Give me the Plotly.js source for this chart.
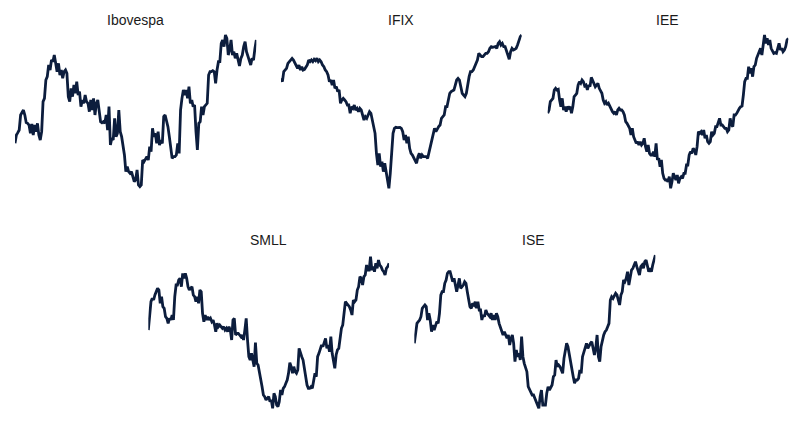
<!DOCTYPE html>
<html>
<head>
<meta charset="utf-8">
<script src="https://cdn.plot.ly/plotly-3.0.1.min.js"></script>
<style>html,body{margin:0;padding:0;background:#fff;}#chart{width:800px;height:426px;}</style>
</head>
<body>
<div id="chart"></div>
<script>
// Index levels (arbitrary rebased units)
const ibovespa = [170,195,202,210,255,265,270,255,232,230,225,200,228,195,225,205,230,195,180,205,295,305,360,370,405,390,420,415,435,410,385,410,375,390,365,385,390,380,310,295,335,310,345,320,355,315,325,280,300,290,315,295,290,265,300,270,305,255,290,300,260,235,232,235,230,255,210,280,165,185,180,245,190,200,270,205,190,165,135,85,100,85,80,85,70,55,60,90,45,40,45,120,115,125,130,120,160,145,215,190,200,170,205,165,180,170,250,255,240,220,190,160,125,130,130,135,170,140,270,305,330,315,330,305,340,290,300,280,285,205,150,230,235,280,255,280,285,290,375,385,385,388,385,350,390,415,415,470,480,460,495,485,435,450,480,435,445,425,440,420,402,425,435,460,475,445,430,415,405,425,420,455,480];
const ifix = [365,355,385,390,395,410,415,422,425,420,410,405,395,405,390,400,390,392,400,405,420,415,420,415,422,418,425,415,420,415,405,400,390,385,375,355,360,345,360,335,340,325,330,290,300,305,300,295,285,285,260,280,275,285,270,275,265,275,270,255,240,250,245,255,265,260,240,225,200,140,105,140,100,115,85,110,80,60,35,80,150,200,215,218,217,218,218,215,205,180,195,170,190,155,140,135,125,120,110,130,140,125,135,130,130,130,125,145,160,180,200,215,205,215,220,225,245,250,255,280,280,300,320,325,328,330,345,360,365,360,340,320,315,310,320,350,370,385,385,390,400,415,420,440,435,430,430,435,440,440,445,455,460,458,460,460,455,470,475,465,470,460,460,450,435,422,445,455,450,452,455,465,480,490,495];
const iee = [260,270,295,300,305,330,335,330,332,300,280,305,270,280,265,280,275,280,260,280,310,315,320,345,355,350,360,355,342,345,330,345,340,368,360,350,340,345,350,335,325,320,300,290,295,285,290,280,270,265,260,265,255,270,275,270,270,265,255,235,230,220,215,195,215,190,180,170,175,165,175,165,170,185,160,145,165,140,135,135,145,130,170,120,125,100,120,80,65,60,60,55,70,35,55,80,70,60,75,50,65,70,65,80,80,105,105,135,145,140,155,150,135,160,205,200,205,195,210,185,195,175,170,175,205,195,200,220,220,230,245,225,225,220,215,215,205,210,245,225,220,255,255,260,270,275,280,282,315,355,365,365,400,380,395,370,400,405,425,435,450,455,435,460,495,470,485,465,480,455,445,440,442,440,455,470,450,455,445,450,460,480,485];
const smll = [270,310,355,365,360,375,385,395,390,350,370,340,335,310,305,290,305,300,315,300,370,405,405,420,425,400,440,425,440,425,400,390,395,400,375,370,355,370,350,390,385,320,295,315,300,310,300,305,295,300,285,265,290,280,285,280,275,280,270,275,265,280,270,240,300,305,255,260,260,255,250,255,240,270,305,240,190,180,200,180,160,232,170,165,145,130,100,75,70,60,65,70,55,60,35,80,70,45,40,55,90,75,95,100,110,120,140,172,160,140,160,145,140,150,215,200,190,180,160,130,105,95,95,100,95,120,140,130,190,200,215,225,220,230,245,215,225,205,250,200,175,155,195,210,215,255,275,285,320,355,350,345,340,330,315,360,355,360,390,400,430,425,405,430,435,465,450,450,490,450,460,445,470,455,480,465,460,450,445,435,455,460,470];
const ise = [230,270,290,295,300,310,335,340,345,340,300,320,300,265,285,270,280,295,290,320,375,385,385,410,420,440,445,445,430,415,425,405,385,405,425,395,400,405,415,410,385,360,340,335,350,345,355,335,355,330,330,300,315,310,330,320,315,310,320,300,315,300,320,310,290,280,270,255,265,255,245,255,225,245,255,230,175,210,190,200,180,250,190,170,160,145,100,90,80,75,75,65,60,50,35,70,90,45,45,45,80,100,90,100,105,130,135,180,160,165,160,150,140,185,205,230,220,195,170,155,130,110,120,120,125,150,140,190,205,215,230,215,225,230,235,215,195,215,255,190,175,220,240,255,265,270,280,290,360,370,365,375,380,375,355,345,375,385,420,415,425,445,405,435,450,455,465,475,460,445,435,460,465,455,475,480,465,445,455,445,465,480,495];

const titles = ['Ibovespa', 'IFIX', 'IEE', 'SMLL', 'ISE'];
const seriesList = [ibovespa, ifix, iee, smll, ise];

const xDomains = [[0.01875, 0.3204], [0.35125, 0.6521], [0.6846, 0.9854], [0.1854, 0.4863], [0.5179, 0.8192]];
const yDomains = [[0.55399, 0.92175], [0.55399, 0.92175], [0.55399, 0.92175], [0.03756, 0.40532], [0.03756, 0.40532]];
const titlePos = [[0.16875, 0.953], [0.50125, 0.953], [0.834, 0.953], [0.335, 0.4366], [0.6665, 0.4366]];

const lineColor = '#0c1d3d';
const traces = [];
const layout = {
  width: 800, height: 426,
  margin: {l: 0, r: 0, t: 0, b: 0},
  paper_bgcolor: '#ffffff', plot_bgcolor: 'rgba(0,0,0,0)',
  showlegend: false,
  font: {family: 'Liberation Sans, Arial, sans-serif', color: '#1a1a1a'},
  annotations: []
};

seriesList.forEach((ys, i) => {
  const n = i + 1;
  const sx = n === 1 ? '' : String(n);
  traces.push({
    type: 'scatter', mode: 'lines',
    x: ys.map((_, k) => k), y: ys,
    xaxis: 'x' + sx, yaxis: 'y' + sx,
    line: {color: lineColor, width: 2.8, shape: 'linear'},
    hoverinfo: 'skip'
  });
  layout['xaxis' + sx] = {
    domain: xDomains[i], range: [0, ys.length - 1],
    visible: false, fixedrange: true, anchor: 'y' + sx
  };
  layout['yaxis' + sx] = {
    domain: yDomains[i], range: [30, 500],
    visible: false, fixedrange: true, anchor: 'x' + sx
  };
  layout.annotations.push({
    text: titles[i], xref: 'paper', yref: 'paper',
    x: titlePos[i][0], y: titlePos[i][1],
    xanchor: 'center', yanchor: 'middle', showarrow: false,
    font: {size: 14, color: '#1a1a1a', family: 'Liberation Sans, Arial, sans-serif'}
  });
});

Plotly.newPlot('chart', traces, layout, {staticPlot: true, displayModeBar: false});
</script>
</body>
</html>
